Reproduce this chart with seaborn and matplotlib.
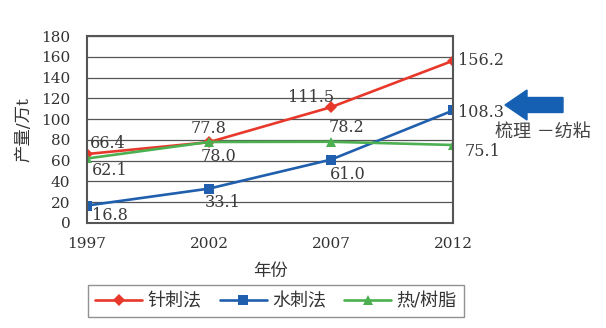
import matplotlib
matplotlib.use("Agg")
import matplotlib.pyplot as plt
import matplotlib.patches as mpatches
import seaborn as sns
import pandas as pd

years = [1997, 2002, 2007, 2012]
needle = [66.4, 77.8, 111.5, 156.2]
spunlace = [16.8, 33.1, 61.0, 108.3]
thermal = [62.1, 78.0, 78.2, 75.1]
series_names = ["针刺法", "水刺法", "热/树脂"]
yticks = [0, 20, 40, 60, 80, 100, 120, 140, 160, 180]

sns.set_theme(style="white")
FAM = ["DejaVu Serif", "Noto Sans CJK SC", "DejaVu Sans"]
plt.rcParams["font.family"] = FAM

df = pd.DataFrame({
    "year": years * 3,
    "value": needle + spunlace + thermal,
    "series": [series_names[0]] * 4 + [series_names[1]] * 4 + [series_names[2]] * 4,
})

colors = ["#e8382b", "#1f5fae", "#4cb050"]
markers = ["D", "s", "^"]

fig = plt.figure(figsize=(6.06, 3.28), dpi=100)
ax = fig.add_axes([87 / 606, 105 / 328, 366 / 606, 187 / 328])

sns.lineplot(data=df, x="year", y="value", hue="series", style="series",
             palette=colors, markers=markers, dashes=False, ax=ax,
             linewidth=1.9, markersize=6.5, markeredgewidth=0, legend=True)

ax.set_xlim(1997, 2012)
ax.set_ylim(0, 180)
ax.set_xticks(years)
ax.set_yticks(yticks)
ax.grid(axis="y", color="#555555", linewidth=0.9)
ax.set_axisbelow(True)
for s in ax.spines.values():
    s.set_color("#555555")
    s.set_linewidth(1.5)
ax.tick_params(axis="x", direction="in", length=5, color="#555555", pad=10,
               labelsize=11, labelcolor="#333333")
ax.tick_params(axis="y", length=0, pad=12, labelsize=11, labelcolor="#333333")
ax.set_xlabel("年份", fontsize=12.5, color="#333333", labelpad=9)
ax.set_ylabel("产量/万t", fontsize=12.5, color="#333333", labelpad=6)

# data labels (offsets in pixels)
lab = dict(textcoords="offset pixels", fontsize=11.5, color="#3a3a3a",
           ha="center", va="center")
offs_needle = [(3, 11), (0, 14), (-20, 10), (5, 0)]
offs_spun = [(5, -10), (14, -14), (17, -15), (5, -2)]
offs_therm = [(5, -12), (9, -15), (15, 14), (12, -7)]
for vals, offs in [(needle, offs_needle), (spunlace, offs_spun), (thermal, offs_therm)]:
    for i, (x, v) in enumerate(zip(years, vals)):
        kw = dict(lab)
        if i in (0, 3):
            kw["ha"] = "left"
        ax.annotate(f"{v:.1f}", (x, v), xytext=offs[i], annotation_clip=False, **kw)

# legend
h, l = ax.get_legend_handles_labels()
ax.legend_.remove()
leg = fig.legend(h, l, loc="center", bbox_to_anchor=(276 / 606, 1 - 301 / 328),
                 ncol=3, frameon=True, fancybox=False, edgecolor="#777777",
                 fontsize=13, handlelength=2.6, columnspacing=1.0,
                 handletextpad=0.3, borderpad=0.4)
leg.get_frame().set_linewidth(1.0)
for t in leg.get_texts():
    t.set_color("#333333")

# arrow and annotation
arrow = mpatches.FancyArrow(5.63, 2.23, -0.58, 0, width=0.15, head_width=0.30,
                            head_length=0.22, length_includes_head=True,
                            color="#1660b4", transform=fig.dpi_scale_trans)
fig.add_artist(arrow)
fig.text(543 / 606, 1 - 132 / 328, "梳理 －纺粘", ha="center", va="center",
         fontsize=13, color="#444444")

fig.savefig("out.png", dpi=100)
